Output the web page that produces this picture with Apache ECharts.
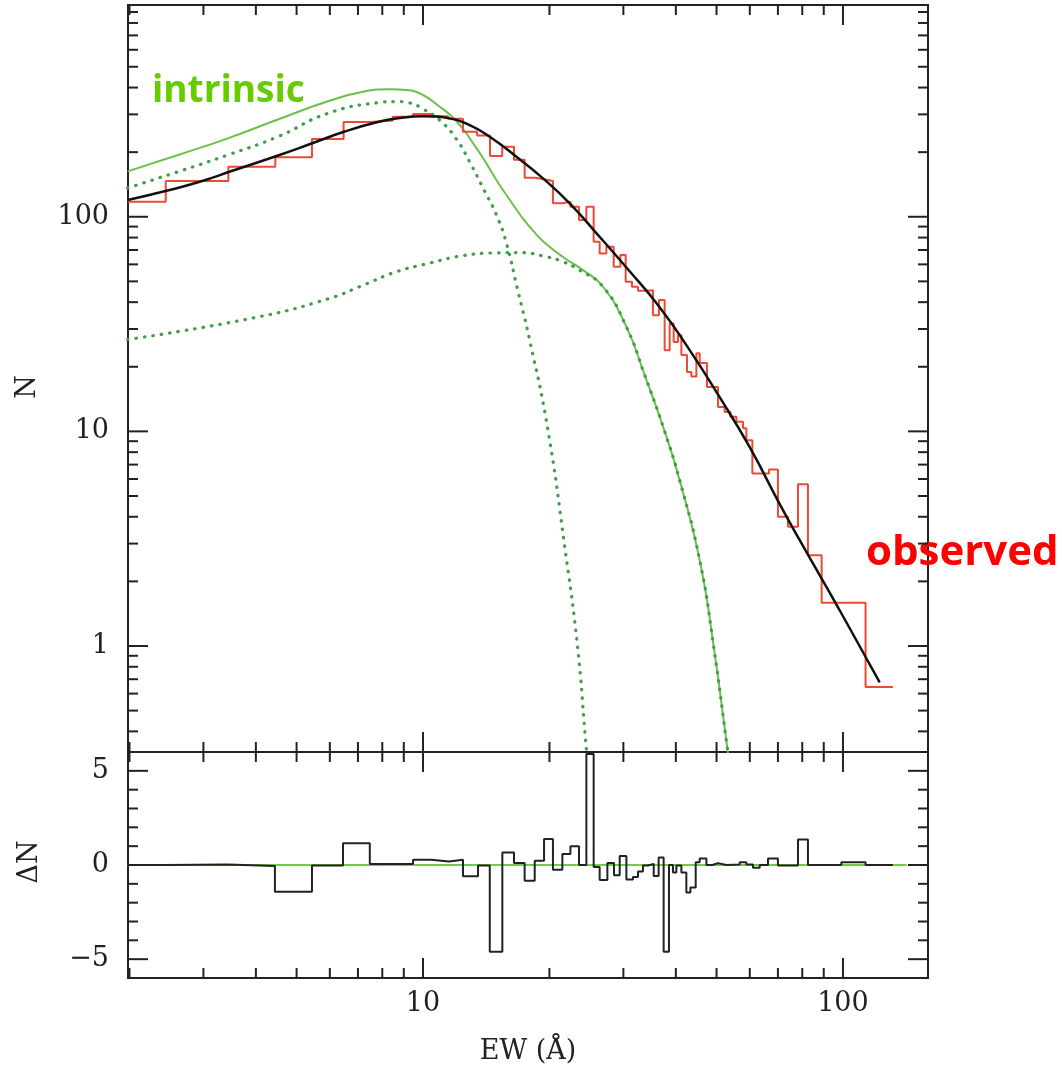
<!DOCTYPE html>
<html><head><meta charset="utf-8">
<script src="https://cdn.jsdelivr.net/npm/echarts@6/dist/echarts.min.js"></script>
<style>html,body{margin:0;padding:0;background:#fff}#c{width:1062px;height:1072px}</style>
</head><body><div id="c"></div>
<script>
// ---------- observed histogram (top panel) ----------
const obsEdges = [1.98, 2.44, 3.44, 4.45, 5.44, 6.47, 7.5, 8.47, 9.47, 10.43, 11.47, 12.45, 13.45, 14.44, 15.44, 16.47, 17.46, 18.45, 19.42, 20.39, 21.47, 22.44, 23.52, 24.49, 25.49, 26.34, 27.33, 28.45, 29.51, 30.38, 31.45, 32.5, 34.03, 35.28, 36.46, 37.62, 38.67, 39.53, 40.47, 41.23, 42.52, 43.55, 44.77, 45.59, 47.45, 50.4, 52.28, 53.94, 55.75, 57.8, 58.88, 60.85, 66.65, 70.01, 73.96, 78.14, 82.53, 88.97, 113.2, 131.5];
const obsCounts = [117.5, 146.7, 171.1, 189.2, 230.2, 276.4, 280.9, 292.6, 301.2, 293.9, 286.4, 249.1, 239.1, 191.9, 212.1, 184.4, 152.0, 149.4, 146.7, 115.5, 117.5, 111.3, 96.5, 111.3, 76.5, 67.5, 72.5, 58.5, 66.3, 49.8, 47.2, 45.2, 45.5, 34.8, 40.9, 23.9, 31.8, 26.1, 28.1, 22.7, 18.9, 18.0, 23.1, 20.8, 16.1, 13.0, 12.3, 11.7, 11.1, 10.35, 9.1, 6.36, 6.64, 4.0, 3.59, 5.67, 2.65, 1.59, 0.644];

// ---------- fitted (observed model) curve ----------
const fitEW = [1.98, 2.45, 2.94, 3.53, 4.48, 5.47, 6.51, 7.8, 8.8, 10, 11.58, 12.92, 14.42, 16.69, 19.31, 22.35, 25.87, 30.5, 36.6, 43.15, 50.86, 59.97, 70.7, 78.9, 88.0, 98.2, 109.6, 122.3];
const fitN = [119.6, 132.2, 145.6, 164.2, 191.9, 220.6, 249.6, 276.4, 288.5, 293.9, 287.4, 267.6, 236, 190.4, 151, 115.5, 83.9, 58.0, 37.9, 23.9, 14.43, 8.44, 4.58, 3.11, 2.14, 1.467, 0.997, 0.677];

// ---------- intrinsic total ----------
const intrEW = [1.98, 2.61, 3.43, 4.51, 5.99, 7.2, 8.33, 9.13, 10, 10.96, 11.58, 12.01, 12.69, 13.15, 13.9, 14.42, 15.22, 15.8, 16.69, 17.3, 18.28, 19.31, 21.54, 24.04, 26.83, 30.5, 33.72, 37.62, 40.85, 45.59, 49.2, 53.2, 55];
const intrN = [162.8, 194, 232, 284, 347, 382.6, 392.6, 389.7, 369.3, 325.6, 299.6, 279.4, 244.3, 220.6, 187.8, 166.9, 140.5, 126.3, 108.1, 98.1, 86.2, 77.0, 64.9, 56.4, 47.2, 30.7, 18.3, 10, 5.92, 2.51, 1, 0.32, 0.2];

// ---------- intrinsic component 1 (low EW) ----------
const comp1EW = [1.98, 2.61, 3.43, 4.51, 5.93, 7.8, 8.56, 9.3, 10, 10.96, 12.01, 12.92, 13.9, 14.96, 15.8, 16.81, 17.95, 19.81, 21.75, 23.35, 24.53, 25.2];
const comp1N = [136.1, 162.1, 194, 236, 303, 340, 344, 339, 318, 282, 230, 180, 136, 101.9, 75.2, 45.5, 26.6, 10.3, 2.9, 0.98, 0.32, 0.2];

// ---------- intrinsic component 2 (high EW) ----------
const comp2EW = [1.98, 4.01, 6.0, 7.2, 8.64, 10.37, 12.45, 14.96, 17.0, 19.67, 21.54, 23.6, 26.83, 30.5, 33.72, 37.62, 40.85, 45.59, 49.2, 53.2, 55];
const comp2N = [26.8, 34.0, 41.7, 48.0, 55.4, 60.8, 65.9, 67.9, 68.1, 65.1, 61.7, 56.4, 47.2, 30.7, 18.3, 10, 5.92, 2.51, 1, 0.32, 0.2];

// ---------- residuals (bottom panel) ----------
const resEdges = [1.98, 2.43, 3.43, 4.44, 5.44, 6.45, 7.47, 9.47, 10.47, 11.53, 12.45, 13.52, 14.42, 15.45, 16.47, 17.46, 18.45, 19.42, 20.39, 21.47, 22.44, 23.52, 24.49, 25.49, 26.34, 27.48, 28.5, 29.4, 30.5, 31.62, 32.5, 33.4, 34.34, 35.43, 36.4, 37.41, 38.52, 39.37, 40.11, 41.23, 42.37, 43.32, 44.6, 45.59, 47.3, 48.87, 50.4, 52.78, 56.76, 58.88, 61.05, 63.35, 66.29, 70.01, 78.14, 82.53, 88.83, 99.13, 113.2, 131.5];
const resValues = [0, 0.03, -0.05, -1.42, -0.02, 1.15, 0.05, 0.28, 0.19, 0.28, -0.6, -0.03, -4.6, 0.67, 0.1, -0.84, 0.22, 1.38, -0.25, 0.58, 0.99, 0, 5.89, -0.1, -0.8, 0.1, -0.54, 0.48, -0.77, -0.64, -0.35, -0.03, 0.06, -0.58, 0.4, -4.6, 0, -0.4, -0.03, -0.4, -1.46, -1.2, 0.14, 0.35, 0, 0.1, 0, 0.02, 0.14, 0.02, -0.14, 0, 0.35, -0.03, 1.35, 0, 0, 0.14, 0];
const zeroLineEW = [1.98, 141.8];
const zeroLineVal = [0, 0];

// ---------- axes ----------
const ewRange = [1.984, 159.4];
const nRange = [0.3206, 970];
const dRange = [-6, 6];
const xMajorTicks = [10, 100];
const xMinorTicks = [2, 3, 4, 5, 6, 7, 8, 9, 20, 30, 40, 50, 60, 70, 80, 90];
const nMajorTicks = [1, 10, 100];
const nMinorTicks = [0.4, 0.5, 0.6, 0.7, 0.8, 0.9, 2, 3, 4, 5, 6, 7, 8, 9, 20, 30, 40, 50, 60, 70, 80, 90, 200, 300, 400, 500, 600, 700, 800, 900];
const dMajorTicks = [-5, 0, 5];
const dMinorTicks = [-4, -3, -2, -1, 1, 2, 3, 4];
const dLabels = {'-5': '\u22125', '0': '0', '5': '5'};

const zip = (a, b) => a.map((v, i) => [v, b[i]]);
function steps(edges, vals) {
  const pts = [];
  vals.forEach((v, i) => { pts.push([edges[i], v], [edges[i + 1], v]); });
  return pts;
}
const INK = '#222';
const serif = 'DejaVu Serif';
function powLabel(v) {
  const l = Math.log10(v);
  return Math.abs(l - Math.round(l)) < 1e-6 ? String(Math.round(v)) : '';
}
function renderTicks(params, api) {
  const cs = params.coordSys;
  const p = api.coord([api.value(0), api.value(1)]);
  const len = api.value(3) ? 20 : 10;
  const st = {stroke: INK, lineWidth: 2};
  if (api.value(2) === 0) {
    const x = p[0];
    return {type: 'group', children: [
      {type: 'line', shape: {x1: x, y1: cs.y + cs.height, x2: x, y2: cs.y + cs.height - len}, style: st},
      {type: 'line', shape: {x1: x, y1: cs.y, x2: x, y2: cs.y + len}, style: st}
    ]};
  }
  const y = p[1];
  return {type: 'group', children: [
    {type: 'line', shape: {x1: cs.x, y1: y, x2: cs.x + len, y2: y}, style: st},
    {type: 'line', shape: {x1: cs.x + cs.width, y1: y, x2: cs.x + cs.width - len, y2: y}, style: st}
  ]};
}
const topTicks = [].concat(
  xMinorTicks.map(v => [v, 10, 0, 0]), xMajorTicks.map(v => [v, 10, 0, 1]),
  nMinorTicks.map(v => [10, v, 1, 0]), nMajorTicks.map(v => [10, v, 1, 1]));
const botTicks = [].concat(
  xMinorTicks.map(v => [v, 0, 0, 0]), xMajorTicks.map(v => [v, 0, 0, 1]),
  dMinorTicks.map(v => [10, v, 1, 0]), dMajorTicks.map(v => [10, v, 1, 1]));

const labelStyle = {fontFamily: serif, fontSize: 27, color: INK};
const line = (data, color, width, xi, extra) => Object.assign({
  type: 'line', data, xAxisIndex: xi, yAxisIndex: xi, showSymbol: false, symbol: 'none',
  silent: true, lineStyle: {color, width}
}, extra || {});
const smooth = {smooth: 0.5};
const dotted = {color: '#3f9e4a', width: 3.2, type: [0.5, 8], cap: 'round'};

const chart = echarts.init(document.getElementById('c'), null, {renderer: 'canvas'});
chart.setOption({
  animation: false,
  backgroundColor: '#fff',
  grid: [
    {left: 128, top: 5, width: 800, height: 747, show: true, borderColor: INK, borderWidth: 2, backgroundColor: 'transparent', containLabel: false, outerBoundsMode: 'none'},
    {left: 128, top: 752, width: 800, height: 226, show: true, borderColor: INK, borderWidth: 2, backgroundColor: 'transparent', containLabel: false, outerBoundsMode: 'none'}
  ],
  xAxis: [
    {type: 'log', gridIndex: 0, min: ewRange[0], max: ewRange[1], logBase: 10,
     axisLine: {show: false}, axisTick: {show: false}, splitLine: {show: false}, axisLabel: {show: false}},
    {type: 'log', gridIndex: 1, min: ewRange[0], max: ewRange[1], logBase: 10,
     axisLine: {show: false}, axisTick: {show: false}, splitLine: {show: false},
     axisLabel: Object.assign({margin: 12, formatter: powLabel, hideOverlap: false}, labelStyle)}
  ],
  yAxis: [
    {type: 'log', gridIndex: 0, min: nRange[0], max: nRange[1], logBase: 10,
     axisLine: {show: false}, axisTick: {show: false}, splitLine: {show: false},
     axisLabel: Object.assign({margin: 19, formatter: powLabel, hideOverlap: false}, labelStyle)},
    {type: 'value', gridIndex: 1, min: dRange[0], max: dRange[1], interval: 1,
     axisLine: {show: false}, axisTick: {show: false}, splitLine: {show: false},
     axisLabel: Object.assign({margin: 19, formatter: v => dLabels[String(v)] || '', hideOverlap: false}, labelStyle)}
  ],
  series: [
    line(zip(intrEW, intrN), '#6cc04a', 2, 0, smooth),
    line(zip(comp1EW, comp1N), '#3f9e4a', 3, 0, Object.assign({lineStyle: dotted}, smooth)),
    line(zip(comp2EW, comp2N), '#3f9e4a', 3, 0, Object.assign({lineStyle: dotted}, smooth)),
    line(steps(obsEdges, obsCounts), '#ee4a32', 2, 0),
    line(zip(fitEW, fitN), '#111', 2.5, 0, smooth),
    line(zip(zeroLineEW, zeroLineVal), '#74cc44', 2, 1),
    line(steps(resEdges, resValues), INK, 2, 1),
    {type: 'custom', xAxisIndex: 0, yAxisIndex: 0, data: topTicks, renderItem: renderTicks, clip: false, silent: true, encode: {x: 0, y: 1}, z: 10},
    {type: 'custom', xAxisIndex: 1, yAxisIndex: 1, data: botTicks, renderItem: renderTicks, clip: false, silent: true, encode: {x: 0, y: 1}, z: 10}
  ],
  graphic: [
    {type: 'text', x: 152, y: 91, silent: true, style: {text: 'intrinsic', fill: '#66cc00', font: 'bold 37px "Open Sans"', align: 'left', verticalAlign: 'middle'}},
    {type: 'text', x: 866, y: 553, silent: true, style: {text: 'observed', fill: '#ff0000', font: 'bold 42px "Open Sans"', align: 'left', verticalAlign: 'middle'}},
    {type: 'text', x: 28, y: 387, rotation: Math.PI / 2, silent: true, style: {text: 'N', fill: INK, font: '27px "DejaVu Serif"', align: 'center', verticalAlign: 'middle'}},
    {type: 'text', x: 30, y: 862, rotation: Math.PI / 2, silent: true, style: {text: '\u0394N', fill: INK, font: '27px "DejaVu Serif"', align: 'center', verticalAlign: 'middle'}},
    {type: 'text', x: 528, y: 1052, silent: true, style: {text: 'EW (\u00c5)', fill: INK, font: '27px "DejaVu Serif"', align: 'center', verticalAlign: 'middle'}}
  ]
});
</script></body></html>
